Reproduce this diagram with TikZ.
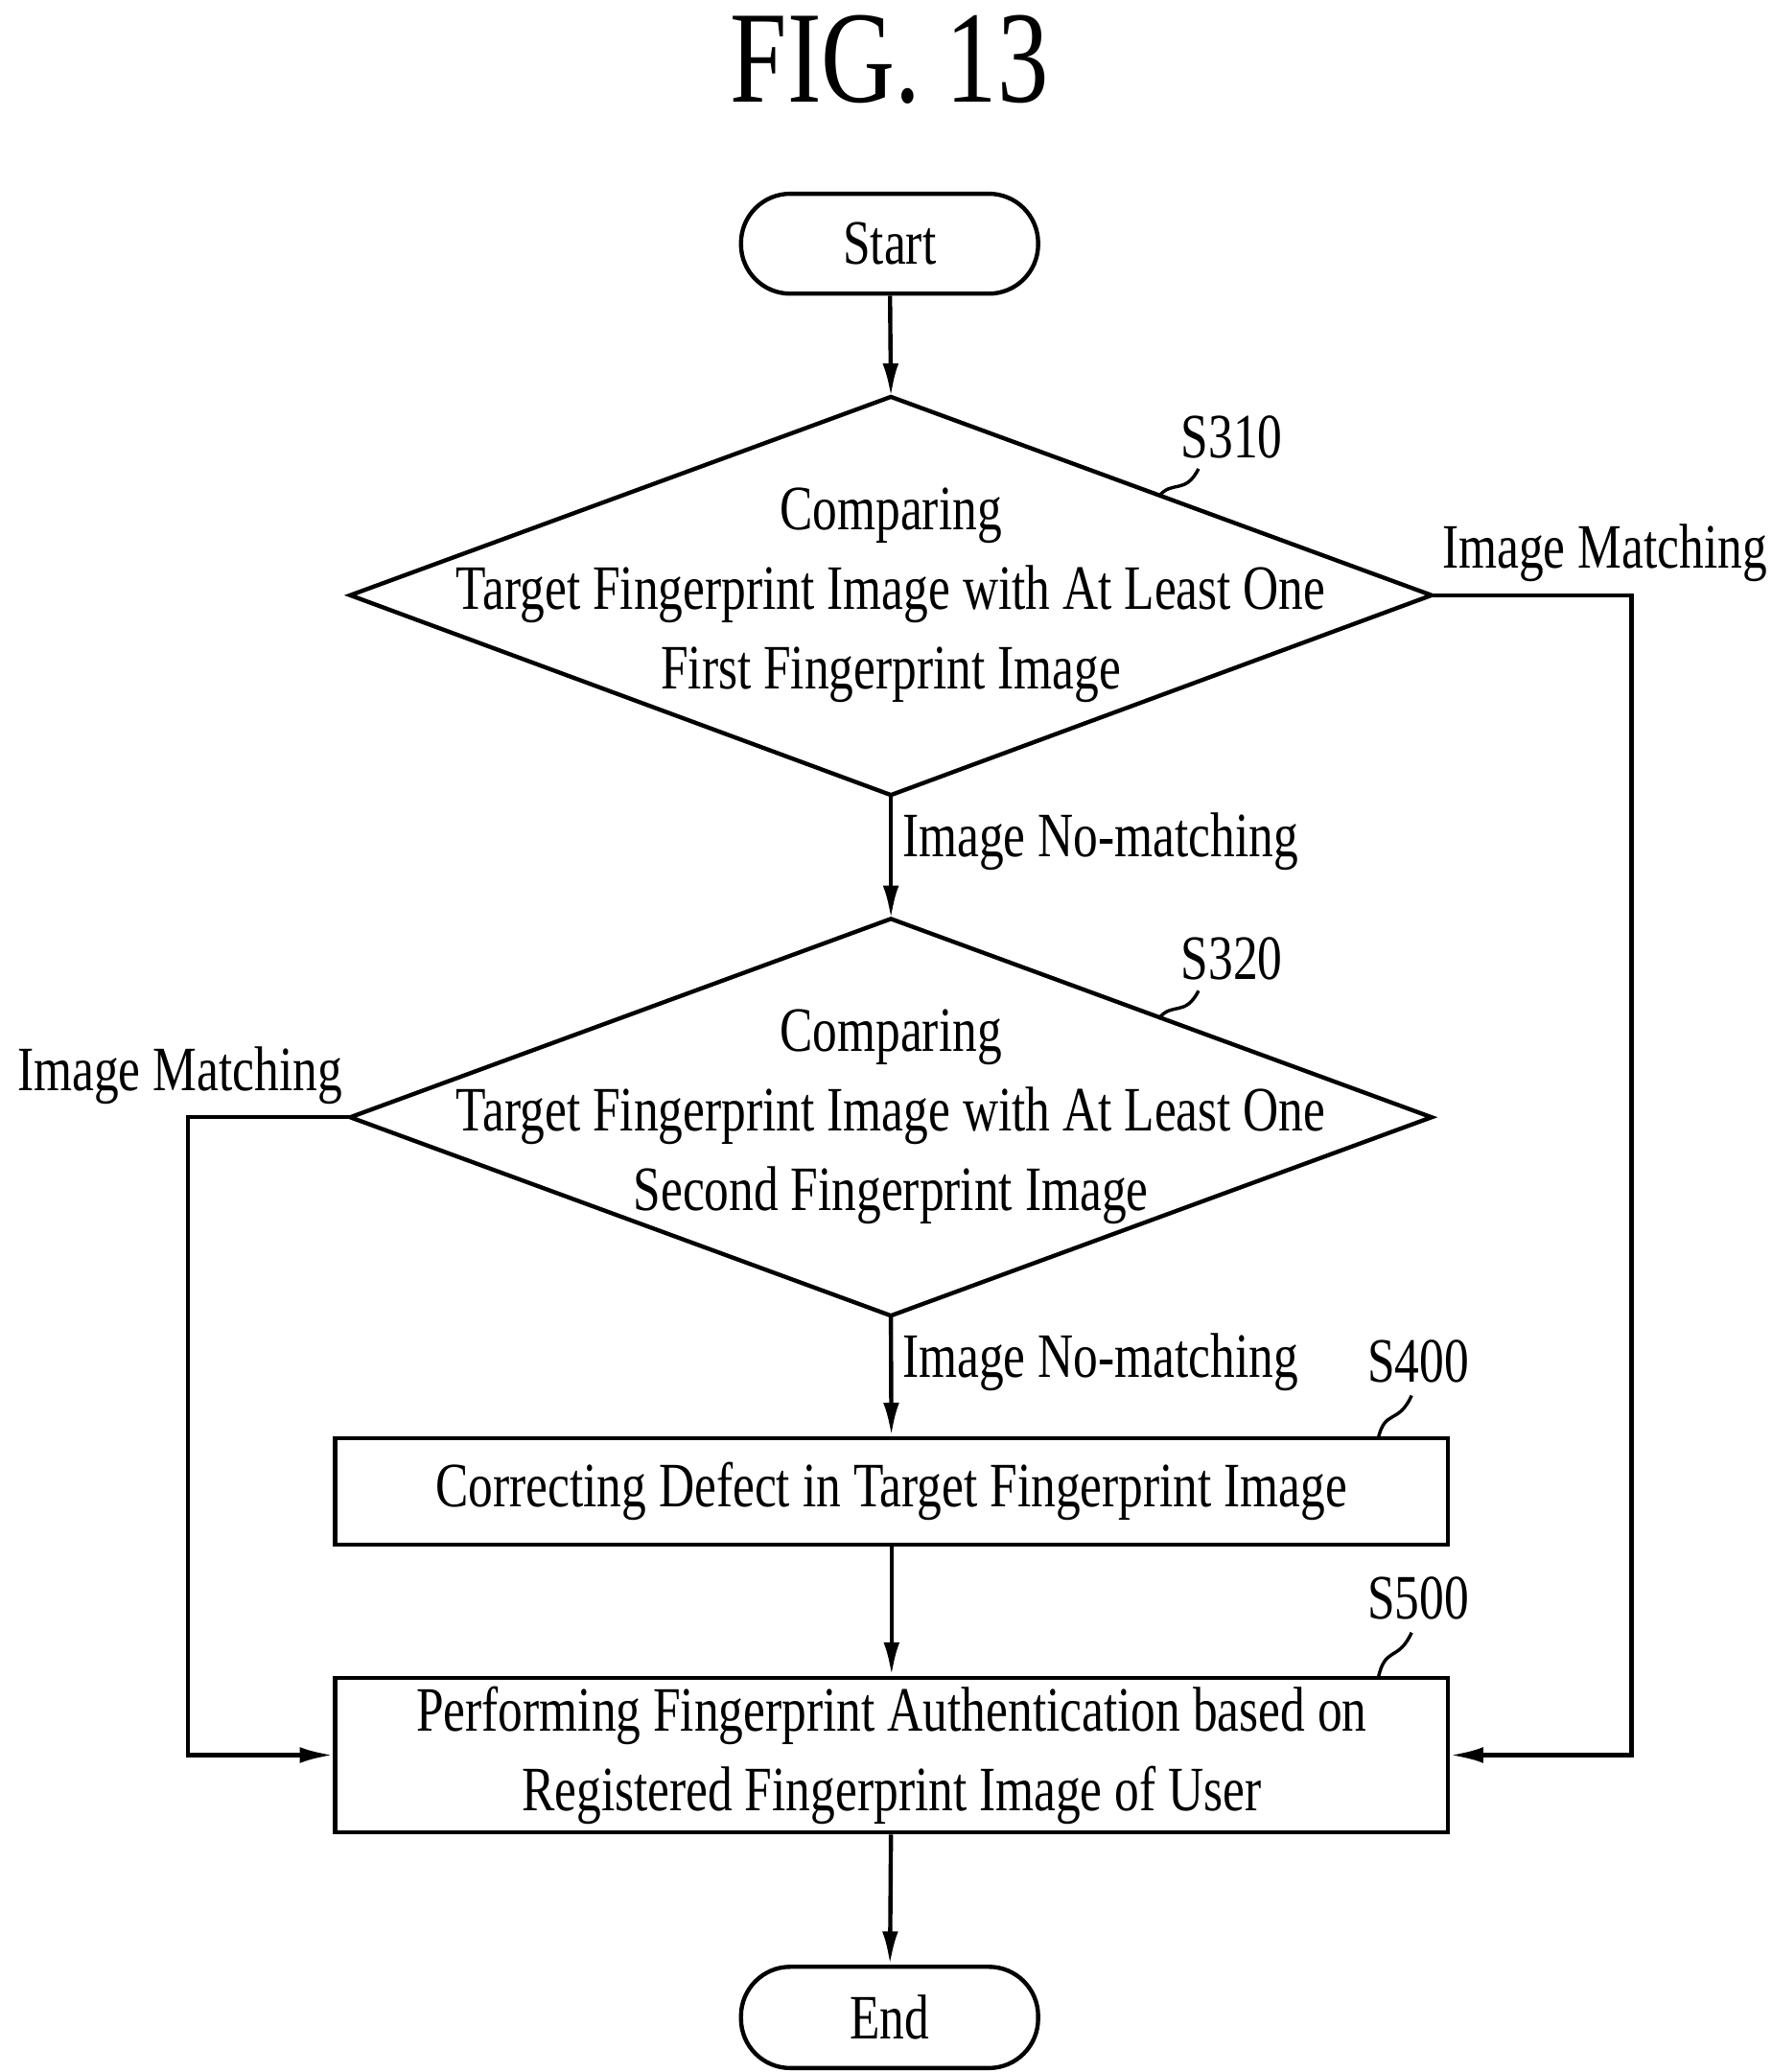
\documentclass[tikz,border=0pt]{standalone}
\usepackage{fontspec}
\setmainfont{Liberation Serif}[FakeStretch=0.78]
\usetikzlibrary{arrows.meta}
\begin{document}
\begin{tikzpicture}[x=0.01cm,y=-0.01cm,line width=0.9pt,
  arr/.style={-{Latex[length=2.5mm,width=1.2mm]}},
  txt/.style={font=\fontsize{13.5}{17}\selectfont,align=center,inner sep=0pt},
  box/.style={draw,inner sep=0pt},
  lead/.style={line width=0.7pt}]
\useasboundingbox (0,0) rectangle (1330,1556);
\node[font=\fontsize{28}{30}\selectfont] (title) at (668,45) {FIG. 13};
\node[box,rounded corners=0.37cm,minimum width=2.23cm,minimum height=0.75cm,txt] (start) at (668,183) {Start};
% diamond 1
\coordinate (d1t) at (669,298); \coordinate (d1b) at (669,597);
\coordinate (d1l) at (263,447); \coordinate (d1r) at (1075,447);
\draw (d1t)--(d1r)--(d1b)--(d1l)--cycle;
\node[txt] (t1) at (669,447) {Comparing\\Target Fingerprint Image with At Least One\\First Fingerprint Image};
% diamond 2
\coordinate (d2t) at (669,690); \coordinate (d2b) at (669,988);
\coordinate (d2l) at (263,839); \coordinate (d2r) at (1075,839);
\draw (d2t)--(d2r)--(d2b)--(d2l)--cycle;
\node[txt] (t2) at (669,839) {Comparing\\Target Fingerprint Image with At Least One\\Second Fingerprint Image};
\node[box,minimum width=8.35cm,minimum height=0.8cm,txt] (s400) at (669.5,1120) {Correcting Defect in Target Fingerprint Image};
\node[box,minimum width=8.35cm,minimum height=1.16cm,txt] (s500) at (669.5,1318) {Performing Fingerprint Authentication based on\\Registered Fingerprint Image of User};
\node[box,rounded corners=0.37cm,minimum width=2.23cm,minimum height=0.76cm,txt] (end) at (668,1515) {End};
% connectors
\draw[arr] (start) -- (d1t);
\draw[arr] (d1b) -- (d2t);
\draw[arr] (d2b) -- (s400);
\draw[arr] (s400) -- (s500);
\draw[arr] (s500) -- (end);
\draw[arr] (d1r) -| (1225,1318) -- (s500.east);
\draw[arr] (d2l) -| (141,1318) -- (s500.west);
% labels
\node[txt] (m1) at (1205,415) {Image Matching};
\node[txt] (m2) at (135,808) {Image Matching};
\node[txt,anchor=west] (n1) at (676,632) {Image No-matching};
\node[txt,anchor=west] (n2) at (676,1023) {Image No-matching};
\node[txt] (l310) at (925,328) {S310};
\node[txt] (l320) at (925,720) {S320};
\node[txt] (l400) at (1065,1022) {S400};
\node[txt] (l500) at (1065,1200) {S500};
\draw[lead] (900,352) .. controls (890,372) and (880,360) .. (870,373);
\draw[lead] (900,744) .. controls (890,764) and (880,752) .. (870,765);
\draw[lead] (1060,1048) .. controls (1050,1070) and (1040,1058) .. (1035,1080);
\draw[lead] (1060,1226) .. controls (1050,1248) and (1040,1236) .. (1035,1260);
\end{tikzpicture}
\end{document}
